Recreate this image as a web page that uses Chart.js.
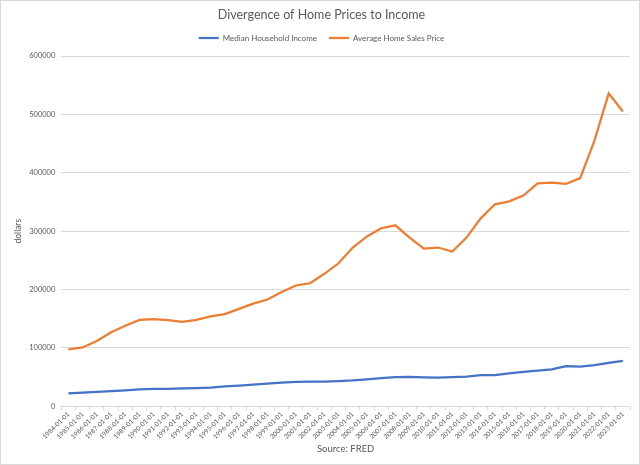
<!DOCTYPE html>
<html>
<head>
<meta charset="utf-8">
<script src="https://cdn.jsdelivr.net/npm/chart.js@4/dist/chart.umd.min.js"></script>
<style>
html,body{margin:0;padding:0;background:#fff;}
#wrap{width:640px;height:465px;box-sizing:border-box;border:1px solid #d9d9d9;position:relative;}
canvas{display:block;}
</style>
</head>
<body>
<div id="wrap"><canvas id="c" width="638" height="463"></canvas></div>
<script>
const years = [];
for (let y = 1984; y <= 2023; y++) years.push(y + '-01-01');
const medianIncome = [22415,23618,24897,26061,27225,28906,29943,30126,30636,31241,32264,34076,35492,37005,38885,40696,41990,42228,42409,43318,44334,46326,48201,50233,50303,49777,49276,50054,51017,53585,53657,56516,59039,61136,63179,68703,68010,70784,74580,77719];
const avgHomePrice = [97600,100800,112000,127000,138000,148000,149500,147500,144500,148000,154000,158000,167000,176000,183000,196000,207000,211000,227000,245000,272000,291000,305000,310000,289000,270000,272000,265000,289000,322000,346000,351000,361000,382000,383000,381000,391000,455000,536000,505000];
const yTicks = [0,100000,200000,300000,400000,500000,600000];

const FONT = "Lato, 'Liberation Sans', sans-serif";
const GRAY = '#595959';

const legendGap = {
  id: 'legendGap',
  beforeInit(chart) {
    const lg = chart.legend;
    const fit = lg.fit;
    lg.fit = function () { fit.call(this); this.height += 4; };
  }
};

new Chart(document.getElementById('c'), {
  type: 'line',
  data: {
    labels: years,
    datasets: [
      {label: 'Median Household Income', data: medianIncome, borderColor: '#4472C4', backgroundColor: '#4472C4', borderWidth: 2.25, pointRadius: 0, tension: 0},
      {label: 'Average Home Sales Price', data: avgHomePrice, borderColor: '#ED7D31', backgroundColor: '#ED7D31', borderWidth: 2.25, pointRadius: 0, tension: 0}
    ]
  },
  plugins: [legendGap],
  options: {
    responsive: false,
    animation: false,
    layout: {padding: {left: 12, right: 9, top: 0, bottom: 9}},
    plugins: {
      title: {display: true, text: 'Divergence of Home Prices to Income', color: GRAY, font: {family: FONT, size: 12.5, weight: 'normal'}, padding: {top: 6, bottom: 0}},
      legend: {display: true, position: 'top', labels: {color: GRAY, font: {family: FONT, size: 8}, usePointStyle: true, pointStyle: 'line', pointStyleWidth: 20, boxHeight: 8, padding: 12}},
      tooltip: {enabled: false}
    },
    scales: {
      x: {
        offset: true,
        grid: {display: true, offset: true, drawOnChartArea: false, drawTicks: true, tickLength: 4, color: '#d9d9d9'},
        border: {display: true, color: '#d9d9d9'},
        ticks: {color: GRAY, font: {family: FONT, size: 6.5}, maxRotation: 45, minRotation: 45, autoSkip: false, padding: 0},
        title: {display: true, text: 'Source: FRED', color: GRAY, font: {family: FONT, size: 9.5}, padding: {top: 3, bottom: 0}}
      },
      y: {
        min: 0, max: 600000,
        afterBuildTicks: (s) => { s.ticks = yTicks.map(v => ({value: v})); },
        grid: {color: '#d9d9d9', drawTicks: false},
        border: {display: false},
        ticks: {color: GRAY, font: {family: FONT, size: 7.5}, padding: 6, callback: (v) => String(v)},
        title: {display: true, text: 'dollars', color: GRAY, font: {family: FONT, size: 8.5}, padding: {top: 0, bottom: 0}}
      }
    }
  }
});
</script>
</body>
</html>
